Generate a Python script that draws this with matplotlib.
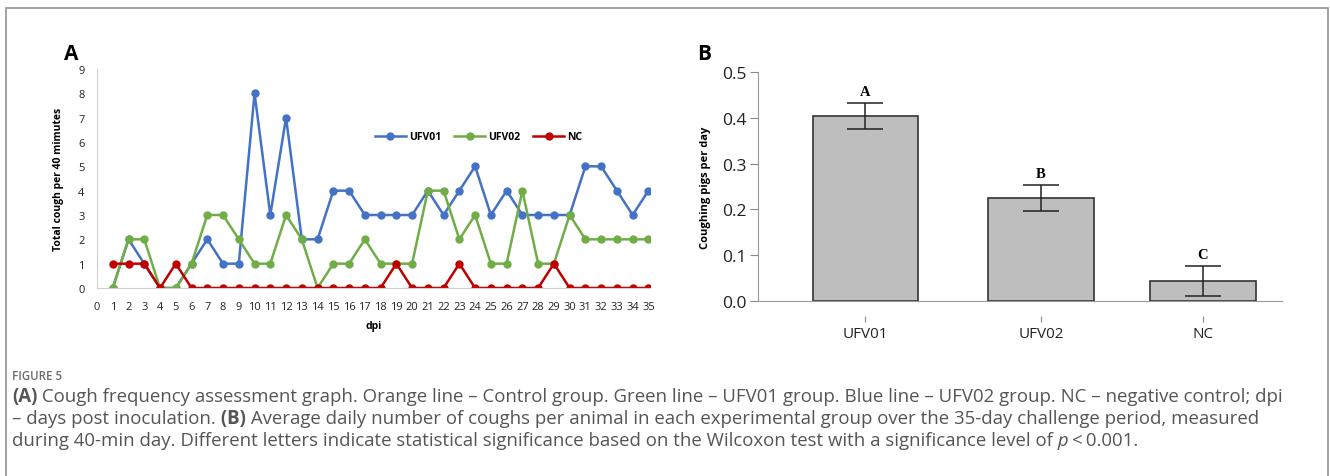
import matplotlib
matplotlib.use("Agg")
import matplotlib.pyplot as plt
from matplotlib.patches import Rectangle
from matplotlib.transforms import ScaledTranslation

# panel A data
dpi_days = list(range(1, 36))
ufv01 = [0, 2, 1, 0, 0, 1, 2, 1, 1, 8, 3, 7, 2, 2, 4, 4, 3, 3, 3, 3,
         4, 3, 4, 5, 3, 4, 3, 3, 3, 3, 5, 5, 4, 3, 4]
ufv02 = [0, 2, 2, 0, 0, 1, 3, 3, 2, 1, 1, 3, 2, 0, 1, 1, 2, 1, 1, 1,
         4, 4, 2, 3, 1, 1, 4, 1, 1, 3, 2, 2, 2, 2, 2]
nc = [1, 1, 1, 0, 1, 0, 0, 0, 0, 0, 0, 0, 0, 0, 0, 0, 0, 0, 1, 0,
      0, 0, 1, 0, 0, 0, 0, 0, 1, 0, 0, 0, 0, 0, 0]

# panel B data
groups = ["UFV01", "UFV02", "NC"]
means = [0.404, 0.225, 0.043]
errs = [0.028, 0.028, 0.033]
letters = ["A", "B", "C"]

fig = plt.figure(figsize=(13.3, 4.77), dpi=100)
plt.rcParams['font.family'] = ['Open Sans', 'DejaVu Sans']

# outer frame
fig.patches.append(Rectangle((6/1330, -0.1), 1322/1330, 1.1 - 9/477,
                             transform=fig.transFigure, fill=False,
                             edgecolor='#9a9a9a', lw=1.3))

# ---- panel A
ax = fig.add_axes([97/1330, 1-289/477, 553/1330, 219/477])
ax.plot(dpi_days, ufv01, marker='o', ms=5, lw=1.8, color='#4472C4', label='UFV01')
ax.plot(dpi_days, ufv02, marker='o', ms=5, lw=1.8, color='#70AD47', label='UFV02')
ax.plot(dpi_days, nc, marker='o', ms=5, lw=1.8, color='#C00000', label='NC')
ax.set_xlim(0, 35.1)
ax.set_ylim(0, 9)
ax.set_xticks(range(0, 36))
ax.set_yticks(range(0, 10))
ax.tick_params(length=0, labelsize=8, pad=9, colors='#222222')
for s in ['top', 'right']:
    ax.spines[s].set_visible(False)
ax.spines['left'].set_color('#d0d0d0')
ax.spines['bottom'].set_color('#d0d0d0')
ax.set_ylabel('Total cough per 40 mimutes', fontsize=7.5, weight='bold', labelpad=10)
ax.set_xlabel('dpi', fontsize=7.5, weight='bold', labelpad=6)
ax.legend(ncol=3, frameon=False, loc='center', bbox_to_anchor=(0.69, 0.69),
          prop={'weight': 'bold', 'size': 7.5}, handlelength=3, columnspacing=1.2,
          handletextpad=0.3)
fig.text(64/1330, 1-55/477, 'A', fontsize=15, weight='bold', va='center')

# ---- panel B
bx = fig.add_axes([758/1330, 1-302/477, 524/1330, 229/477])
pos = [0, 1, 1.92]
bx.bar(pos, means, width=0.6, color='#bebebe', edgecolor='#333333', lw=1.2)
bx.errorbar(pos, means, yerr=errs, fmt='none', ecolor='#222222', elinewidth=1.1,
            capsize=13, capthick=1.1)
for p, m, e, l in zip(pos, means, errs, letters):
    bx.text(p, m + e + 0.012, l, ha='center', va='bottom', fontsize=10.5,
            weight='bold', family='Liberation Serif')
bx.set_xlim(-0.61, 2.37)
bx.set_ylim(0, 0.5)
bx.set_yticks([0, 0.1, 0.2, 0.3, 0.4, 0.5])
bx.set_yticklabels(['0.0', '0.1', '0.2', '0.3', '0.4', '0.5'])
bx.set_xticks(pos)
bx.set_xticklabels(groups)
bx.tick_params(axis='y', labelsize=12.5, length=6, pad=2, color='#888888', labelcolor='#222222')
bx.tick_params(axis='x', labelsize=11, length=0, pad=18, labelcolor='#222222')
for s in ['top', 'right']:
    bx.spines[s].set_visible(False)
bx.spines['left'].set_color('#999999')
bx.spines['bottom'].set_color('#999999')
# small detached tick marks under the category axis
off = ScaledTranslation(0, -18/100, fig.dpi_scale_trans)
for p in pos:
    bx.plot([p], [0], marker='|', ms=4.5, mew=0.8, color='#888888',
            transform=bx.transData + off, clip_on=False)
bx.set_ylabel('Coughing pigs per day', fontsize=8, weight='bold', labelpad=8)
fig.text(697/1330, 1-55/477, 'B', fontsize=15, weight='bold', va='center')

# ---- caption
cap_color = '#555555'
fig.text(12/1330, 1-380/477, 'FIGURE 5', fontsize=8.3, weight='semibold',
         color='#6a6a6a', va='baseline')

renderer = fig.canvas.get_renderer()


def rich_line(y, segments, size=13.4):
    x = 12/1330
    for s, weight, style in segments:
        t = fig.text(x, y, s, fontsize=size, weight=weight, style=style,
                     color=cap_color, va='baseline')
        bb = t.get_window_extent(renderer)
        x += bb.width / fig.bbox.width


rich_line(1-402/477, [('(A)', 'bold', 'normal'),
                      (' Cough frequency assessment graph. Orange line \u2013 Control group. Green line \u2013 UFV01 group. Blue line \u2013 UFV02 group. NC \u2013 negative control; dpi', 'normal', 'normal')])
rich_line(1-424/477, [('\u2013 days post inoculation.', 'normal', 'normal'),
                      (' (B)', 'bold', 'normal'),
                      (' Average daily number of coughs per animal in each experimental group over the 35-day challenge period, measured', 'normal', 'normal')])
rich_line(1-446/477, [('during 40-min day. Different letters indicate statistical significance based on the Wilcoxon test with a significance level of', 'normal', 'normal'),
                      (' p', 'normal', 'italic'),
                      ('\u2009<\u20090.001.', 'normal', 'normal')])

fig.savefig('out.png', dpi=100)
